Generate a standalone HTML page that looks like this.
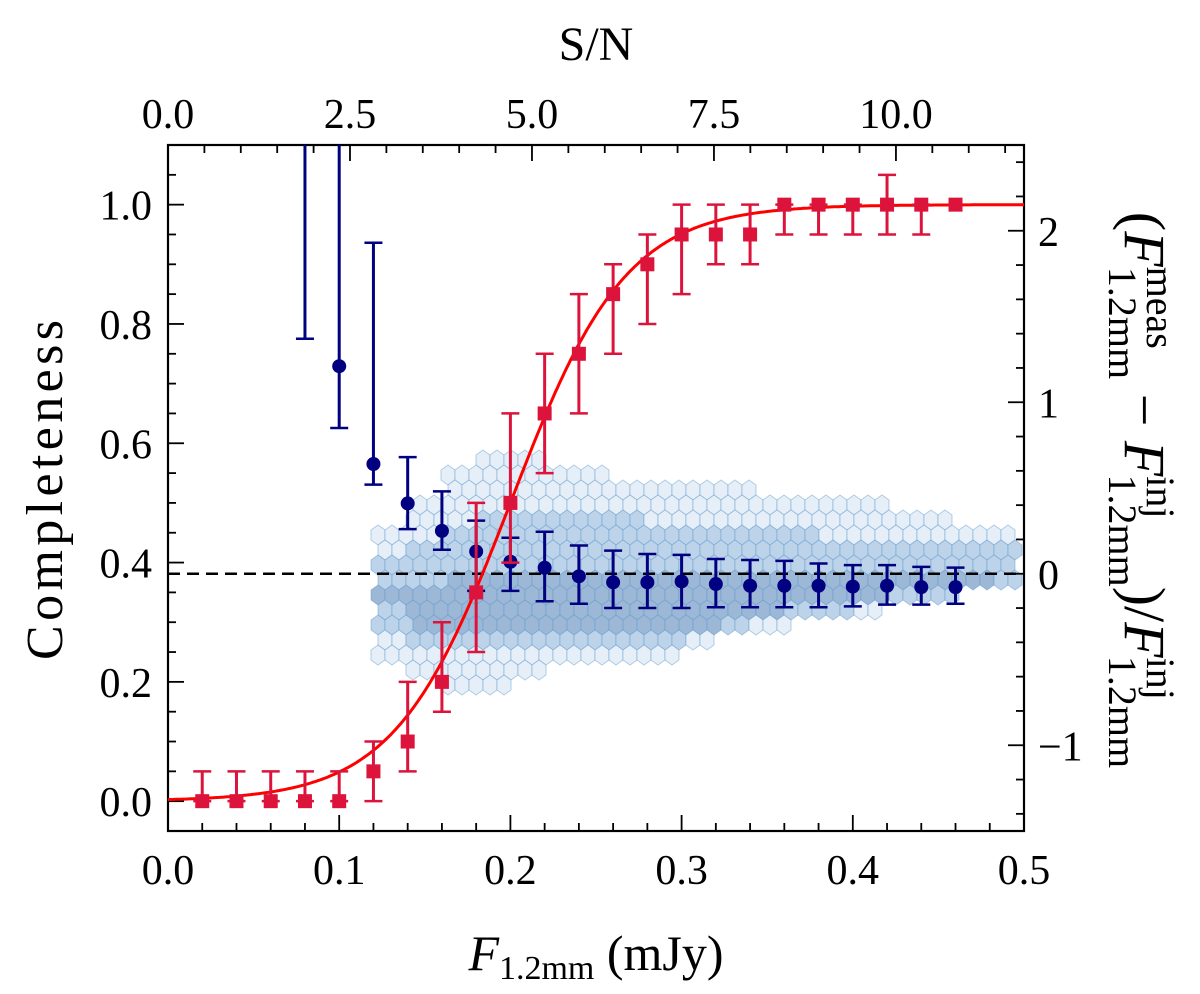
<!DOCTYPE html>
<html><head><meta charset="utf-8">
<style>
html,body{margin:0;padding:0;background:#fff;}
svg{display:block;font-family:"Liberation Serif",serif;}
</style></head>
<body>
<svg id="chart" width="1200" height="994" viewBox="0 0 1200 994" xmlns="http://www.w3.org/2000/svg">
<g id="hex"></g>
<g id="grid"></g>
<g id="marks"></g>
<text x="596" y="60" font-size="48" text-anchor="middle">S/N</text>
<text x="0" y="0" font-size="52" text-anchor="middle" textLength="340" transform="translate(62,490) rotate(-90)">Completeness</text>
<text x="596" y="970" font-size="50" text-anchor="middle"><tspan font-style="italic">F</tspan><tspan font-size="34" dy="9">1.2mm</tspan><tspan dy="-9"> (mJy)</tspan></text>
<text x="0" y="0" font-size="58" text-anchor="middle" transform="translate(1125,490) rotate(90)">(<tspan font-style="italic">F</tspan><tspan font-size="40" dy="-22">meas</tspan><tspan font-size="40" dx="-82" dy="38">1.2mm</tspan><tspan dy="-16"> − </tspan><tspan font-style="italic">F</tspan><tspan font-size="40" dy="-22">inj</tspan><tspan font-size="40" dx="-44" dy="38">1.2mm</tspan><tspan dy="-16">)/</tspan><tspan font-style="italic">F</tspan><tspan font-size="40" dy="-22">inj</tspan><tspan font-size="40" dx="-44" dy="38">1.2mm</tspan></text>
</svg>
<script>
// ---- data ----
const redX = [0.02,0.04,0.06,0.08,0.10,0.12,0.14,0.16,0.18,0.20,0.22,0.24,0.26,0.28,0.30,0.32,0.34,0.36,0.38,0.40,0.42,0.44,0.46];
const redY = [0,0,0,0,0,0.05,0.10,0.20,0.35,0.50,0.65,0.75,0.85,0.90,0.95,0.95,0.95,1,1,1,1,1,1];
const redLo = [0,0,0,0,0,0,0.05,0.15,0.25,0.40,0.55,0.65,0.75,0.80,0.85,0.90,0.90,0.95,0.95,0.95,0.95,0.95,1];
const redHi = [0.05,0.05,0.05,0.05,0.05,0.10,0.20,0.30,0.50,0.65,0.75,0.85,0.90,0.95,1.0,1.0,1.0,1.0,1.0,1.0,1.05,1.0,1];
const fitParams = [0.2, 0.0337]; // logistic midpoint, width
const blueX = [0.08,0.10,0.12,0.14,0.16,0.18,0.20,0.22,0.24,0.26,0.28,0.30,0.32,0.34,0.36,0.38,0.40,0.42,0.44,0.46];
const blueY = [3.0,1.21,0.64,0.41,0.25,0.13,0.07,0.035,-0.015,-0.05,-0.05,-0.045,-0.06,-0.07,-0.07,-0.07,-0.075,-0.07,-0.078,-0.078];
const blueLo = [1.37,0.85,0.52,0.26,0.14,-0.1,-0.1,-0.16,-0.175,-0.2,-0.2,-0.2,-0.195,-0.195,-0.195,-0.195,-0.19,-0.18,-0.18,-0.175];
const blueHi = [4.0,4.0,1.93,0.68,0.48,0.31,0.21,0.245,0.165,0.135,0.115,0.11,0.086,0.08,0.075,0.06,0.05,0.05,0.04,0.036];
// hexbin band extents per x column (right-axis units)
const bandX = [0.13,0.15,0.17,0.19,0.21,0.23,0.25,0.27,0.29,0.31,0.33,0.35,0.37,0.39,0.41,0.43,0.45,0.47,0.49];
const bandTop = [0.3,0.45,0.6,0.75,0.75,0.6,0.6,0.55,0.55,0.5,0.5,0.45,0.45,0.45,0.45,0.4,0.35,0.3,0.25];
const midTop = [0.1,0.2,0.3,0.35,0.35,0.35,0.35,0.32,0.3,0.3,0.28,0.25,0.25,0.22,0.2,0.2,0.18,0.15,0.15];
const coreTop = [-0.1,-0.05,0.0,0.0,0.0,0.0,0.0,0.0,0.0,0.0,0.0,0.0,0.0,0.0,0.0,0.0,0.0,0.05,0.05];
const coreBot = [-0.2,-0.3,-0.3,-0.3,-0.3,-0.32,-0.35,-0.35,-0.35,-0.3,-0.25,-0.22,-0.2,-0.18,-0.15,-0.12,-0.1,-0.05,-0.03];
const midBot = [-0.35,-0.45,-0.45,-0.45,-0.45,-0.45,-0.45,-0.45,-0.42,-0.38,-0.3,-0.28,-0.25,-0.22,-0.2,-0.18,-0.15,-0.1,-0.08];
const bandBot = [-0.5,-0.6,-0.65,-0.65,-0.6,-0.55,-0.55,-0.5,-0.5,-0.45,-0.35,-0.3,-0.28,-0.25,-0.22,-0.2,-0.18,-0.12,-0.1];
const xTicks = ['0.0','0.1','0.2','0.3','0.4','0.5'];
const yTicks = ['0.0','0.2','0.4','0.6','0.8','1.0'];
const rTicks = ['−1','0','1','2'];
const snTicks = ['0.0','2.5','5.0','7.5','10.0'];
const snPerMJy = 2.5/0.1063;

// ---- scales ----
const L=168,R=1024,T=145,B=831;
const X = v => L + (v-0)/(0.5)*(R-L);
const Y = v => B - (v+0.05)/1.15*(B-T);
const YR = v => B - (v+1.5)/4*(B-T);
const XS = s => X(s/snPerMJy);
const NS='http://www.w3.org/2000/svg';
function mk(tag, attrs, parent){const e=document.createElementNS(NS,tag);for(const k in attrs)e.setAttribute(k,attrs[k]);parent.appendChild(e);return e;}
const gHex=document.getElementById('hex'), gGrid=document.getElementById('grid'), gM=document.getElementById('marks');

// ---- hexbin ----
const hw=14, hh=15;
for(let row=0; T+row*hh<B; row++){
  const cy=T+row*hh;
  const off=(row%2)?hw/2:0;
  for(let cx=L+off; cx<R-2; cx+=hw){
    const xv=(cx-L)/(R-L)*0.5, yv=(B-cy)/(B-T)*4-1.5;
    let i=Math.round((xv-0.13)/0.02); if(i<0||i>=bandX.length) continue;
    if(xv<0.115) continue;
    let fill=null;
    if(yv<=coreTop[i]&&yv>=coreBot[i]) fill='#9db8d6';
    else if(yv<=midTop[i]&&yv>=midBot[i]) fill='#bcd3e9';
    else if(yv<=bandTop[i]&&yv>=bandBot[i]) fill='#e6eff8';
    if(!fill) continue;
    const w=hw/2, v=10;
    const pts=[[cx,cy-v],[cx+w,cy-v/2],[cx+w,cy+v/2],[cx,cy+v],[cx-w,cy+v/2],[cx-w,cy-v/2]];
    const p=mk('polygon',{points:pts.map(q=>q.join(',')).join(' '),fill:fill,stroke:'rgba(90,150,205,0.45)','stroke-width':1},gHex);
    
    
  }
}

// ---- dashed zero line ----
const dl=mk('line',{x1:L,x2:R,y1:YR(0),y2:YR(0),stroke:'#000','stroke-width':2.5,'stroke-dasharray':'12,7'},gM);



// ---- blue series ----
blueX.forEach((x,i)=>{
  const cx=X(x), top=Math.max(YR(blueHi[i]),T), bot=YR(blueLo[i]);
  const g=mk('g',{},gM);
  
  
  mk('line',{x1:cx,x2:cx,y1:top,y2:bot,stroke:'#000080','stroke-width':3},g);
  if(blueHi[i]<2.5) mk('line',{x1:cx-9,x2:cx+9,y1:top,y2:top,stroke:'#000080','stroke-width':2.5},g);
  mk('line',{x1:cx-9,x2:cx+9,y1:bot,y2:bot,stroke:'#000080','stroke-width':2.5},g);
  if(blueY[i]<2.5) mk('circle',{cx:cx,cy:YR(blueY[i]),r:7,fill:'#000080'},g);
});

// ---- fit curve ----
let d='';
for(let k=0;k<=400;k++){const x=k/400*0.5;const y=1/(1+Math.exp(-(x-fitParams[0])/fitParams[1]));d+=(k?'L':'M')+X(x).toFixed(1)+','+Y(y).toFixed(1);}
const fc=mk('path',{d:d,fill:'none',stroke:'#ff0000','stroke-width':3},gM);



// ---- red series ----
redX.forEach((x,i)=>{
  const cx=X(x);
  const g=mk('g',{},gM);
  
  
  if(redHi[i]!==redLo[i]){
    mk('line',{x1:cx,x2:cx,y1:Y(redHi[i]),y2:Y(redLo[i]),stroke:'#dc143c','stroke-width':3},g);
    mk('line',{x1:cx-9,x2:cx+9,y1:Y(redHi[i]),y2:Y(redHi[i]),stroke:'#dc143c','stroke-width':2.5},g);
    mk('line',{x1:cx-9,x2:cx+9,y1:Y(redLo[i]),y2:Y(redLo[i]),stroke:'#dc143c','stroke-width':2.5},g);
  }
  mk('rect',{x:cx-7,y:Y(redY[i])-7,width:14,height:14,fill:'#dc143c'},g);
});

// ---- axes / ticks ----
function tick(x1,y1,x2,y2){mk('line',{x1,y1,x2,y2,stroke:'#000','stroke-width':1.8},gGrid);}
for(let k=0;k<=25;k++){const x=X(k*0.02);const maj=k%5===0;tick(x,B,x,B-(maj?16:8));}
for(let s=0;s<=12;s+=0.5){const x=XS(s);if(x>R)break;const maj=Math.abs(s/2.5-Math.round(s/2.5))<1e-6;tick(x,T,x,T+(maj?16:8));}
for(let k=-1;k<=22;k++){const v=k*0.05;const y=Y(v);if(y<T||y>B)continue;const maj=k%4===0;tick(L,y,L+(maj?16:8),y);}
for(let k=-7;k<=12;k++){const v=k*0.2;const y=YR(v);if(y<T||y>B)continue;const maj=k%5===0;tick(R,y,R-(maj?16:8),y);}
const fr=mk('rect',{x:L,y:T,width:R-L,height:B-T,fill:'none',stroke:'#000','stroke-width':2.2},gGrid);


function lbl(txt,x,y,anchor,name){const t=mk('text',{x,y,'font-size':42,'text-anchor':anchor},gGrid);t.textContent=txt;
  
  }
xTicks.forEach(s=>lbl(s,X(parseFloat(s)),884,'middle','x-tick-label'));
yTicks.forEach(s=>lbl(s,152,Y(parseFloat(s))+15,'end','y-tick-label'));
rTicks.forEach(s=>lbl(s,1038,YR(parseFloat(s.replace('−','-')))+15,'start','right-tick-label'));
snTicks.forEach(s=>lbl(s,XS(parseFloat(s)),128,'middle','top-tick-label'));
</script>
</body></html>
